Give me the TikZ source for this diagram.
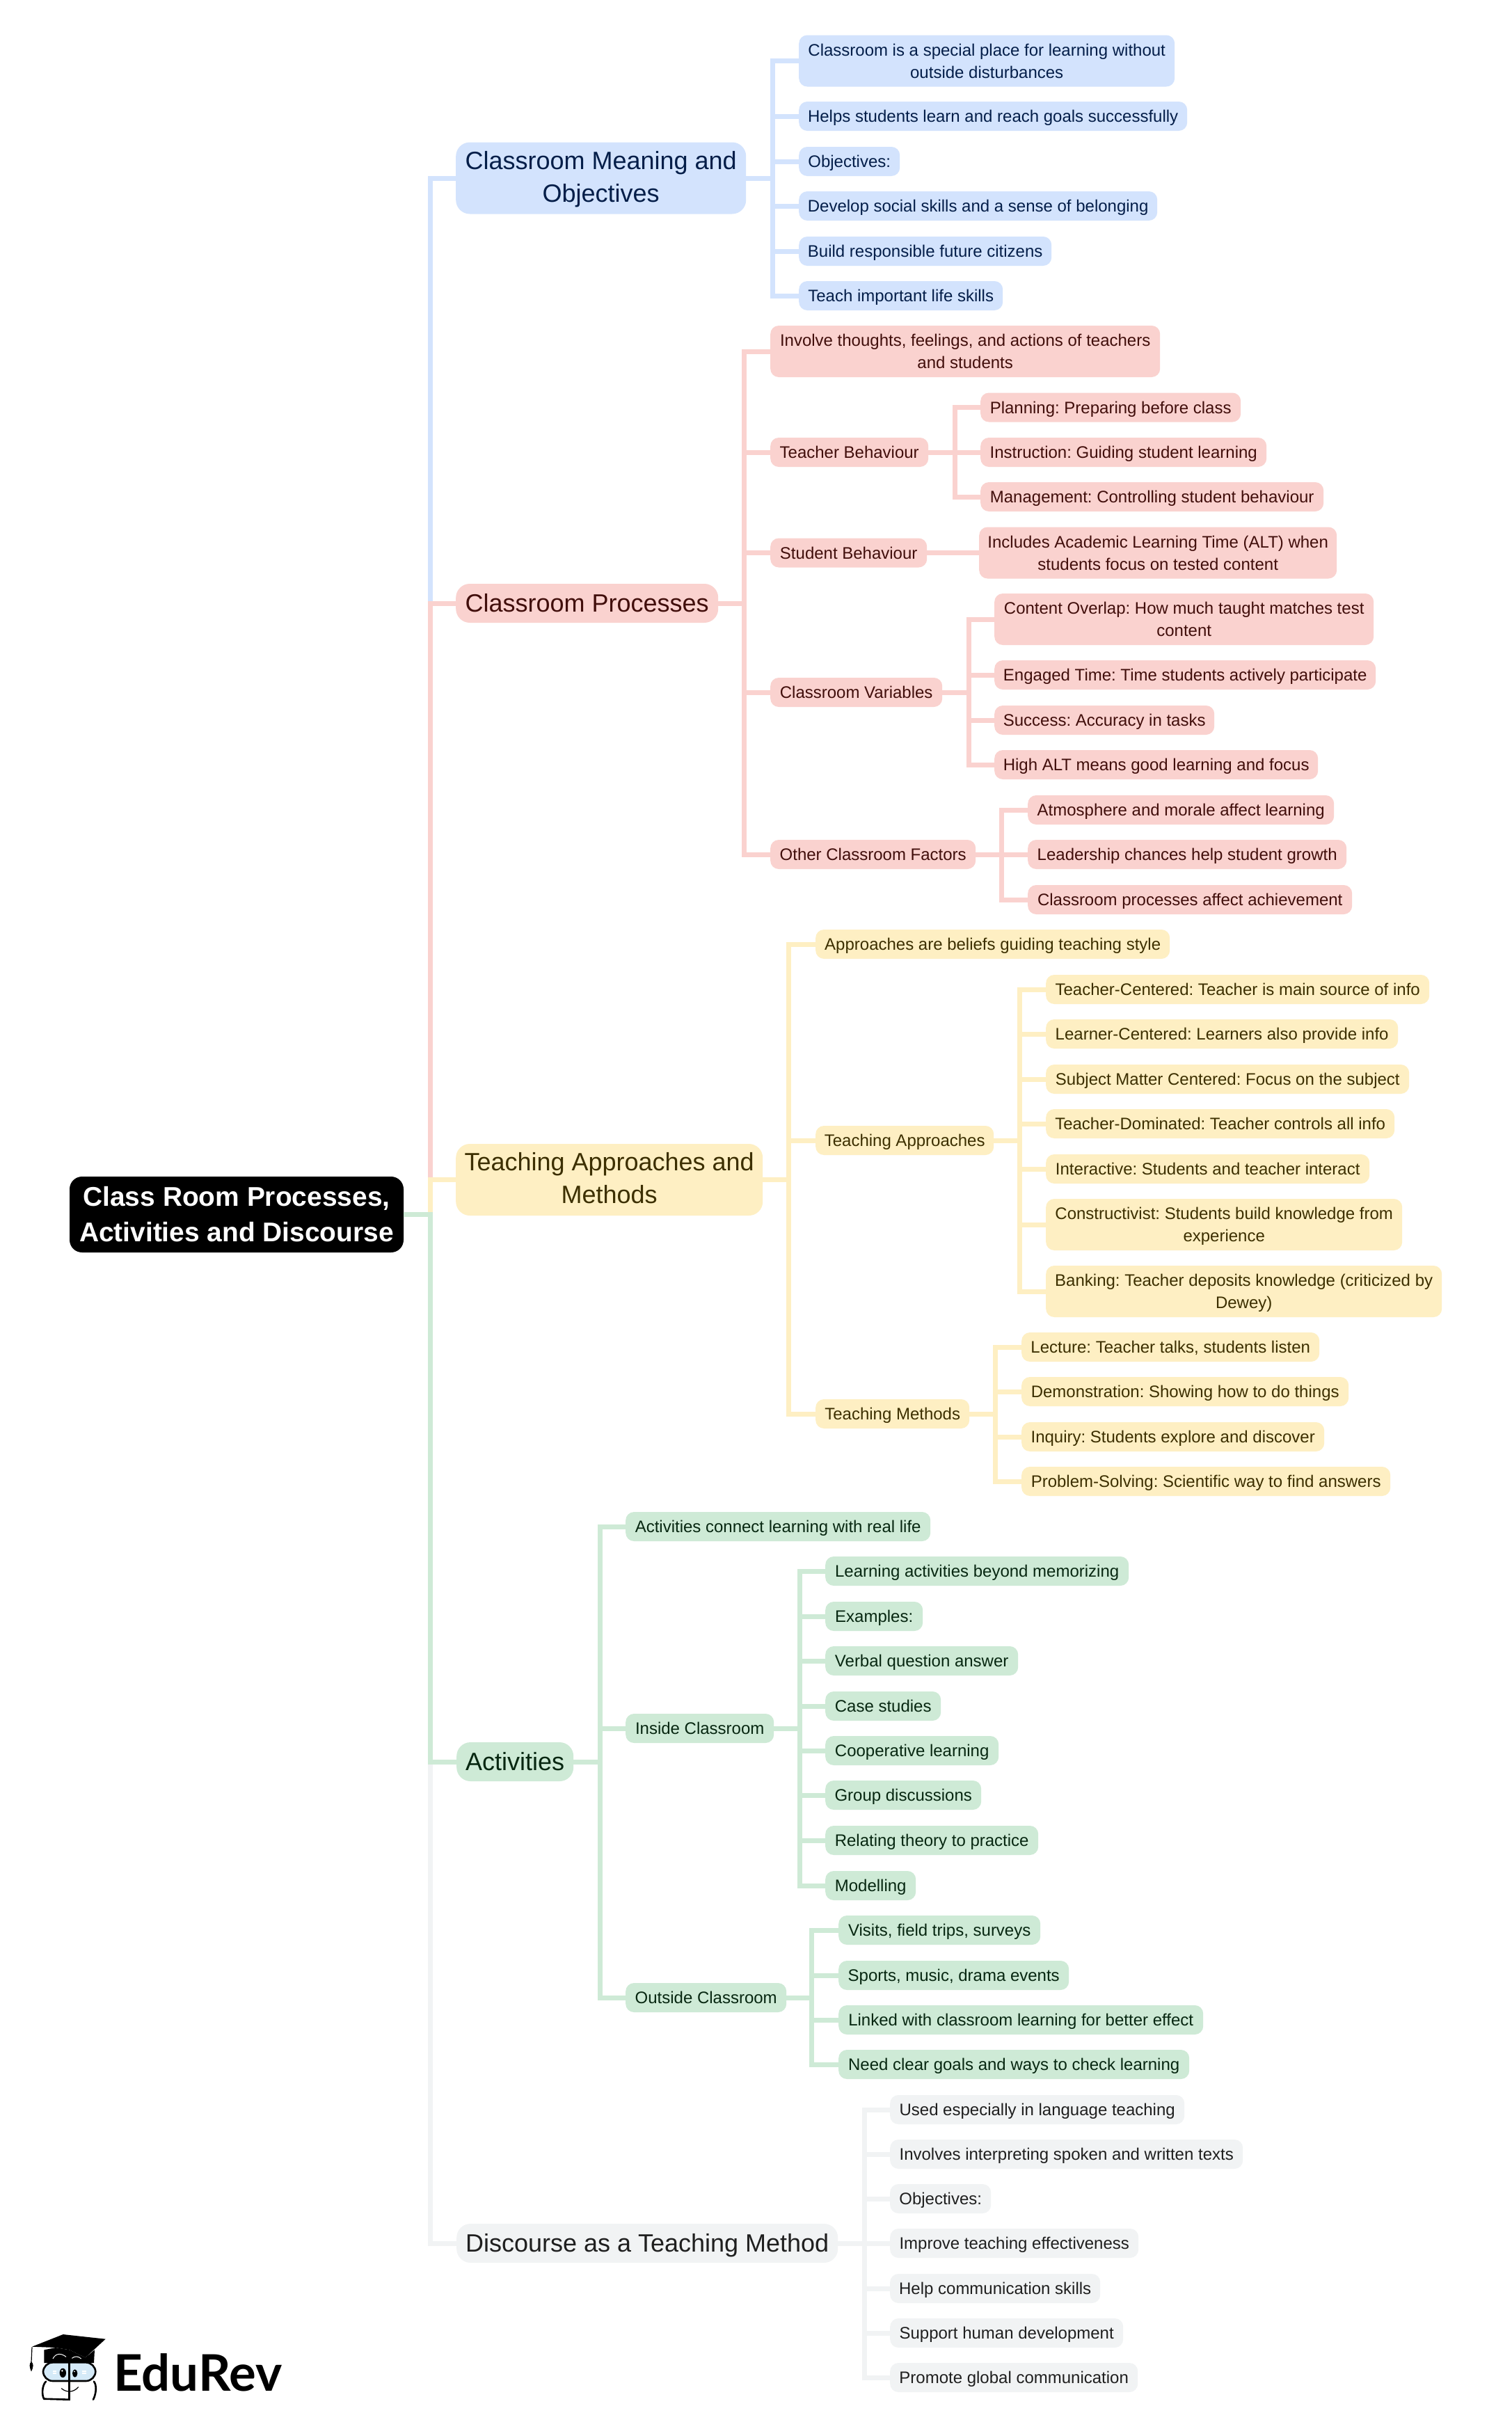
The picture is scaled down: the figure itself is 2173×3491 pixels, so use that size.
\documentclass[tikz,border=0pt]{standalone}
\usepackage{fontspec}
\setmainfont{Liberation Sans}
\newfontfamily\logofont{Lato}
\frenchspacing
\newcommand\lstrut{\rule[-7.5pt]{0pt}{32pt}}
\newcommand\bstrut{\rule[-11.5pt]{0pt}{47pt}}
\newcommand\btstrut{\rule[-12pt]{0pt}{45pt}}
\newcommand\rstrut{\rule[-12.5pt]{0pt}{51pt}}
\newcommand\ltwo[2]{\lstrut #1\\#2\lstrut}
\newcommand\btwo[2]{\btstrut #1\\#2\btstrut}
\newcommand\rtwo[2]{\rstrut #1\\#2\rstrut}
\definecolor{fb}{HTML}{D3E3FD}\definecolor{tb}{HTML}{041E49}
\definecolor{fr}{HTML}{FAD2CF}\definecolor{tr}{HTML}{410E0B}
\definecolor{fy}{HTML}{FEEFC3}\definecolor{ty}{HTML}{3C2F00}
\definecolor{fg}{HTML}{CEEAD6}\definecolor{tg}{HTML}{072711}
\definecolor{fk}{HTML}{F1F3F4}\definecolor{tk}{HTML}{1F1F1F}
\tikzset{
  leafbase/.style={rounded corners=12pt,anchor=west,inner sep=0pt,align=center,
    font=\fontsize{24}{32}\selectfont\frenchspacing},
  leaf/.style={leafbase,minimum height=42pt,execute at begin node=\lstrut,execute at end node=\lstrut},
  leaftwo/.style={leafbase,minimum height=74pt},
  branchbase/.style={rounded corners=20pt,anchor=west,inner sep=0pt,align=center,
    font=\fontsize{36}{47}\selectfont\frenchspacing},
  branch/.style={branchbase,minimum height=56pt,execute at begin node=\bstrut,execute at end node=\bstrut},
  branchtwo/.style={branchbase,minimum height=103pt},
  rootnode/.style={rounded corners=18pt,anchor=center,inner sep=0pt,fill=black,text=white,align=center,
    minimum width=480pt,minimum height=109pt,
    font=\fontsize{38.9}{51}\selectfont\bfseries\frenchspacing},
  cb/.style={fill=fb,text=tb},cr/.style={fill=fr,text=tr},cy/.style={fill=fy,text=ty},
  cg/.style={fill=fg,text=tg},ck/.style={fill=fk,text=tk},
  edge/.style={line width=7pt}
}
\newcommand\fan[4]{% colour, parent, stem, children
  \foreach \kid in {#4}{\draw[edge,#1] (#2.east) -- (#2.east -| #3) |- (\kid.west);}}
\begin{document}
\begin{tikzpicture}[x=1pt,y=-1pt]
\useasboundingbox (0,0) rectangle (2173,3491);
\fill[white] (0,0) rectangle (2173,3491);
\coordinate (s0) at (618,0);
\coordinate (sb) at (1110,0);
\coordinate (sr) at (1069,0);
\coordinate (srt) at (1372,0);
\coordinate (srv) at (1392,0);
\coordinate (sro) at (1439,0);
\coordinate (sy) at (1133,0);
\coordinate (sya) at (1465,0);
\coordinate (sym) at (1430,0);
\coordinate (sg) at (862,0);
\coordinate (sgi) at (1149,0);
\coordinate (sgo) at (1166,0);
\coordinate (sk) at (1242,0);

\node[rootnode] (root) at (340,1745.5) {\rtwo{Class Room Processes,}{Activities and Discourse}};

% blue
\node[branchtwo,cb,minimum width=417pt] (b) at (655,256) {\btwo{Classroom Meaning and}{Objectives}};
\node[leaftwo,cb,minimum width=540pt] (b1) at (1148,87.5) {\ltwo{Classroom is a special place for learning without}{outside disturbances}};
\node[leaf,cb,minimum width=558pt] (b2) at (1148,167) {Helps students learn and reach goals successfully};
\node[leaf,cb,minimum width=145pt] (b3) at (1148,232) {Objectives:};
\node[leaf,cb,minimum width=515pt] (b4) at (1148,296) {Develop social skills and a sense of belonging};
\node[leaf,cb,minimum width=363pt] (b5) at (1148,361) {Build responsible future citizens};
\node[leaf,cb,minimum width=293pt] (b6) at (1148,425) {Teach important life skills};

% red
\node[branch,cr,minimum width=377pt] (r) at (655,867) {Classroom Processes};
\node[leaftwo,cr,minimum width=560pt] (r1) at (1107,505) {\ltwo{Involve thoughts, feelings, and actions of teachers}{and students}};
\node[leaf,cr,minimum width=227pt] (rt) at (1107,650) {Teacher Behaviour};
\node[leaf,cr,minimum width=374pt] (rt1) at (1409,585.5) {Planning: Preparing before class};
\node[leaf,cr,minimum width=411pt] (rt2) at (1409,650) {Instruction: Guiding student learning};
\node[leaf,cr,minimum width=493pt] (rt3) at (1409,714) {Management: Controlling student behaviour};
\node[leaf,cr,minimum width=225pt] (rs) at (1107,794.5) {Student Behaviour};
\node[leaftwo,cr,minimum width=514pt] (rs1) at (1407,794.5) {\ltwo{Includes Academic Learning Time (ALT) when}{students focus on tested content}};
\node[leaf,cr,minimum width=247pt] (rv) at (1107,995) {Classroom Variables};
\node[leaftwo,cr,minimum width=545pt] (rv1) at (1429,890) {\ltwo{Content Overlap: How much taught matches test}{content}};
\node[leaf,cr,minimum width=548pt] (rv2) at (1429,970) {Engaged Time: Time students actively participate};
\node[leaf,cr,minimum width=316pt] (rv3) at (1429,1035) {Success: Accuracy in tasks};
\node[leaf,cr,minimum width=465pt] (rv4) at (1429,1099) {High ALT means good learning and focus};
\node[leaf,cr,minimum width=295pt] (ro) at (1107,1228) {Other Classroom Factors};
\node[leaf,cr,minimum width=440pt] (ro1) at (1477,1164) {Atmosphere and morale affect learning};
\node[leaf,cr,minimum width=458pt] (ro2) at (1477,1228) {Leadership chances help student growth};
\node[leaf,cr,minimum width=466pt] (ro3) at (1477,1293) {Classroom processes affect achievement};

% yellow
\node[branchtwo,cy,minimum width=441pt] (y) at (655,1695.5) {\btwo{Teaching Approaches and}{Methods}};
\node[leaf,cy,minimum width=509pt] (y1) at (1172,1357) {Approaches are beliefs guiding teaching style};
\node[leaf,cy,minimum width=256pt] (ya) at (1172,1639) {Teaching Approaches};
\node[leaf,cy,minimum width=551pt] (ya1) at (1503,1422) {Teacher-Centered: Teacher is main source of info};
\node[leaf,cy,minimum width=506pt] (ya2) at (1503,1486) {Learner-Centered: Learners also provide info};
\node[leaf,cy,minimum width=522pt] (ya3) at (1503,1551) {Subject Matter Centered: Focus on the subject};
\node[leaf,cy,minimum width=501pt] (ya4) at (1503,1615) {Teacher-Dominated: Teacher controls all info};
\node[leaf,cy,minimum width=465pt] (ya5) at (1503,1680) {Interactive: Students and teacher interact};
\node[leaftwo,cy,minimum width=512pt] (ya6) at (1503,1760) {\ltwo{Constructivist: Students build knowledge from}{experience}};
\node[leaftwo,cy,minimum width=569pt] (ya7) at (1503,1856) {\ltwo{Banking: Teacher deposits knowledge (criticized by}{Dewey)}};
\node[leaf,cy,minimum width=221pt] (ym) at (1172,2032) {Teaching Methods};
\node[leaf,cy,minimum width=428pt] (ym1) at (1468,1936) {Lecture: Teacher talks, students listen};
\node[leaf,cy,minimum width=470pt] (ym2) at (1468,2000) {Demonstration: Showing how to do things};
\node[leaf,cy,minimum width=435pt] (ym3) at (1468,2065) {Inquiry: Students explore and discover};
\node[leaf,cy,minimum width=530pt] (ym4) at (1468,2129) {Problem-Solving: Scientific way to find answers};

% green
\node[branch,cg,minimum width=168pt] (g) at (656,2532) {Activities};
\node[leaf,cg,minimum width=438pt] (g1) at (899,2194) {Activities connect learning with real life};
\node[leaf,cg,minimum width=213pt] (gi) at (899,2484) {Inside Classroom};
\node[leaf,cg,minimum width=436pt] (gi1) at (1186,2258) {Learning activities beyond memorizing};
\node[leaf,cg,minimum width=140pt] (gi2) at (1186,2323) {Examples:};
\node[leaf,cg,minimum width=277pt] (gi3) at (1186,2387) {Verbal question answer};
\node[leaf,cg,minimum width=166pt] (gi4) at (1186,2452) {Case studies};
\node[leaf,cg,minimum width=249pt] (gi5) at (1186,2516) {Cooperative learning};
\node[leaf,cg,minimum width=224pt] (gi6) at (1186,2580) {Group discussions};
\node[leaf,cg,minimum width=306pt] (gi7) at (1186,2645) {Relating theory to practice};
\node[leaf,cg,minimum width=130pt] (gi8) at (1186,2710) {Modelling};
\node[leaf,cg,minimum width=231pt] (go) at (899,2871) {Outside Classroom};
\node[leaf,cg,minimum width=290pt] (go1) at (1205,2774) {Visits, field trips, surveys};
\node[leaf,cg,minimum width=331pt] (go2) at (1205,2839) {Sports, music, drama events};
\node[leaf,cg,minimum width=524pt] (go3) at (1205,2903) {Linked with classroom learning for better effect};
\node[leaf,cg,minimum width=504pt] (go4) at (1205,2967) {Need clear goals and ways to check learning};

% grey
\node[branch,ck,minimum width=548pt] (k) at (656,3224) {Discourse as a Teaching Method};
\node[leaf,ck,minimum width=423pt] (k1) at (1279,3032) {Used especially in language teaching};
\node[leaf,ck,minimum width=507pt] (k2) at (1279,3096) {Involves interpreting spoken and written texts};
\node[leaf,ck,minimum width=145pt] (k3) at (1279,3160) {Objectives:};
\node[leaf,ck,minimum width=357pt] (k4) at (1279,3224) {Improve teaching effectiveness};
\node[leaf,ck,minimum width=302pt] (k5) at (1279,3289) {Help communication skills};
\node[leaf,ck,minimum width=335pt] (k6) at (1279,3353) {Support human development};
\node[leaf,ck,minimum width=356pt] (k7) at (1279,3417) {Promote global communication};

% connectors, in the order in which they overlap
\fan{fk}{root}{s0}{k}
\fan{fb}{root}{s0}{b}
\fan{fr}{root}{s0}{r}
\fan{fy}{root}{s0}{y}
\fan{fg}{root}{s0}{g}
\fan{fb}{b}{sb}{b1,b2,b3,b4,b5,b6}
\fan{fr}{r}{sr}{r1,rt,rs,rv,ro}
\fan{fr}{rt}{srt}{rt1,rt2,rt3}
\draw[edge,fr] (rs.east) -- (rs1.west);
\fan{fr}{rv}{srv}{rv1,rv2,rv3,rv4}
\fan{fr}{ro}{sro}{ro1,ro2,ro3}
\fan{fy}{y}{sy}{y1,ya,ym}
\fan{fy}{ya}{sya}{ya1,ya2,ya3,ya4,ya5,ya6,ya7}
\fan{fy}{ym}{sym}{ym1,ym2,ym3,ym4}
\fan{fg}{g}{sg}{g1,gi,go}
\fan{fg}{gi}{sgi}{gi1,gi2,gi3,gi4,gi5,gi6,gi7,gi8}
\fan{fg}{go}{sgo}{go1,go2,go3,go4}
\fan{fk}{k}{sk}{k1,k2,k3,k4,k5,k6,k7}

% logo
\node[anchor=base west,inner sep=0pt,font=\fontsize{72.5}{72.5}\selectfont\logofont\bfseries] (logotext) at (163,3436) {EduRev};
\begin{scope}[shift={(0,3300)},x=0.33333pt,y=-0.33333pt]
  \fill[black] (190,232) -- (240,222) -- (300,232) -- (368,265) -- (408,232) -- (405,288) -- (190,288) -- cycle;
  \filldraw[fill={rgb,255:red,213;green,234;blue,248},draw=black,line width=2.6pt,rounded corners=14pt] (186,286) rectangle (412,366);
  \draw[black,line width=2.6pt,line cap=round] (198,368) .. controls (180,385) and (180,430) .. (190,443) -- (298,446);
  \draw[black,line width=2.6pt,line cap=round] (405,368) .. controls (418,385) and (415,420) .. (402,446);
  \draw[black,line width=3.2pt] (298,282) -- (298,450);
  \fill[black] (138,218) -- (272,165) -- (455,185) -- (368,265) -- (300,232) -- (240,222) -- cycle;
  \draw[black,line width=1.2pt] (138,220) -- (135,285);
  \fill[black] (135,283) .. controls (125,290) and (126,305) .. (135,325) .. controls (145,305) and (146,290) .. (135,283) -- cycle;
  \draw[white,line width=1pt] (228,270) .. controls (240,245) and (265,245) .. (285,262);
  \draw[white,line width=1pt] (310,268) .. controls (322,258) and (338,258) .. (350,270);
  \fill[black] (271,331) ellipse [x radius=14,y radius=20];
  \fill[black] (323,333) ellipse [x radius=11,y radius=17];
  \fill[white] (268,322) circle [radius=4];
  \fill[white] (321,325) circle [radius=3];
  \fill[white] (228,320) rectangle (244,326);
  \fill[white] (228,330) rectangle (244,336);
  \fill[white] (354,320) rectangle (372,326);
  \fill[white] (354,330) rectangle (372,336);
  \draw[black,line width=1.2pt,line cap=round] (265,398) .. controls (285,415) and (315,418) .. (338,392);
\end{scope}
\end{tikzpicture}
\end{document}
